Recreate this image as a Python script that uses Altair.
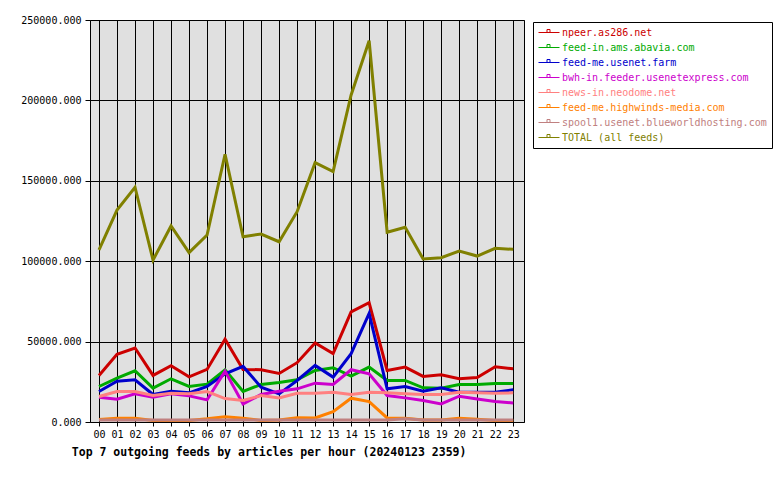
import altair as alt
import pandas as pd

hours = list(range(24))
hour_labels = [f"{h:02d}" for h in hours]

series_names = [
    "npeer.as286.net",
    "feed-in.ams.abavia.com",
    "feed-me.usenet.farm",
    "bwh-in.feeder.usenetexpress.com",
    "news-in.neodome.net",
    "feed-me.highwinds-media.com",
    "spool1.usenet.blueworldhosting.com",
    "TOTAL (all feeds)",
]
series_colors = ["#cc0000", "#00aa00", "#0000cc", "#cc00cc", "#ff8080",
                 "#ff8000", "#c08080", "#808000"]

npeer = [28960, 42080, 46040, 28960, 35000, 28120, 32700, 51450, 32700, 32500,
         30200, 36900, 49170, 42500, 68540, 74160, 32080, 34160, 28330, 29370,
         26870, 27700, 34370, 33120]
abavia = [22080, 27290, 31870, 21040, 26870, 22080, 23540, 32500, 18960, 23330,
          24580, 26250, 32080, 33750, 28540, 34160, 25830, 25830, 21250, 21040,
          23330, 23330, 23960, 23960]
usenetfarm = [18960, 25410, 26250, 17080, 19160, 18120, 22080, 30000, 34580, 21660,
              17500, 25830, 35200, 27910, 42500, 67500, 20620, 22080, 19160, 21250,
              18540, 18540, 18540, 20000]
bwh = [15410, 14160, 17500, 15410, 17500, 16250, 13750, 31660, 11250, 17080,
       19160, 20620, 24160, 23330, 32500, 30000, 16460, 15000, 13330, 11250,
       16040, 14370, 12710, 11870]
neodome = [15830, 18960, 18960, 16460, 17910, 17500, 18960, 14580, 13330, 16460,
           15000, 17910, 17910, 18540, 17080, 18540, 18120, 17500, 17080, 17080,
           18540, 18120, 17910, 18120]
highwinds = [1500, 2300, 2300, 1000, 800, 1000, 2000, 3300, 2300, 1000,
             1200, 2700, 2500, 6460, 14790, 12700, 2500, 2300, 1250, 1250,
             2300, 1670, 1000, 1000]
spool1 = [1250, 1250, 1300, 1250, 1250, 1250, 1250, 1300, 1250, 1250,
          1250, 1250, 1250, 1250, 1250, 1300, 1250, 2000, 1250, 1250,
          1250, 1250, 1250, 1250]
total = [107000, 131800, 146000, 100700, 121900, 105300, 116300, 166500, 115200, 116900,
         112100, 130800, 161300, 155700, 203400, 237100, 118000, 121100, 101400, 102200,
         106300, 103200, 108000, 107400]

all_values = [npeer, abavia, usenetfarm, bwh, neodome, highwinds, spool1, total]

rows = []
for si, (name, vals) in enumerate(zip(series_names, all_values)):
    for h, v in zip(hours, vals):
        rows.append({"feed": name, "hour": h, "articles": v, "k": si})
df = pd.DataFrame(rows)

MONO = "DejaVu Sans Mono"

chart = alt.Chart(df).mark_line(strokeWidth=3, clip=True).encode(
    x=alt.X("hour:Q",
            scale=alt.Scale(domain=[-0.5, 23.6], nice=False, zero=False),
            axis=alt.Axis(values=hours, format="02d", title=None, labelFont=MONO,
                          labelFontSize=10, labelColor="black", tickColor="black",
                          tickSize=4, labelPadding=3, domain=False, grid=True,
                          gridColor="black", gridOpacity=1, gridWidth=1,
                          labelFlush=False)),
    y=alt.Y("articles:Q",
            scale=alt.Scale(domain=[0, 250000], nice=False),
            axis=alt.Axis(values=[0, 50000, 100000, 150000, 200000, 250000],
                          format=".3f", title=None, labelFont=MONO, labelFontSize=10,
                          labelColor="black", tickColor="black", tickSize=5,
                          labelPadding=4, domain=False, grid=True, gridColor="black",
                          gridOpacity=1, gridWidth=1)),
    color=alt.Color("feed:N",
                    scale=alt.Scale(domain=series_names, range=series_colors),
                    legend=alt.Legend(
                        title=None, orient="none", legendX=443, legendY=2,
                        direction="vertical",
                        strokeColor="black", fillColor="white", padding=5,
                        symbolType="M-1,0H3.2M0.7,0V-0.6H1.3V0",
                        symbolSize=100, symbolStrokeWidth=1,
                        labelFont=MONO, labelFontSize=10, labelOffset=13,
                        labelLimit=400, rowPadding=4,
                        labelColor=alt.ExprRef("scale('color', datum.value)"),
                    )),
    order=alt.Order("k:Q"),
).properties(
    width=434,
    height=402,
    title=alt.TitleParams(
        "Top 7 outgoing feeds by articles per hour (20240123 2359)",
        orient="bottom", anchor="start", font=MONO, fontWeight="bold",
        fontSize=11.5, color="black", dx=51, offset=8,
    ),
    autosize=alt.AutoSizeParams(type="none"),
    padding={"left": 90, "top": 20, "right": 256, "bottom": 58},
    background="white",
).configure_view(
    fill="#e0e0e0", stroke="black", strokeWidth=1
)

chart.save("out.html", embed_options={"renderer": "svg", "actions": False})
